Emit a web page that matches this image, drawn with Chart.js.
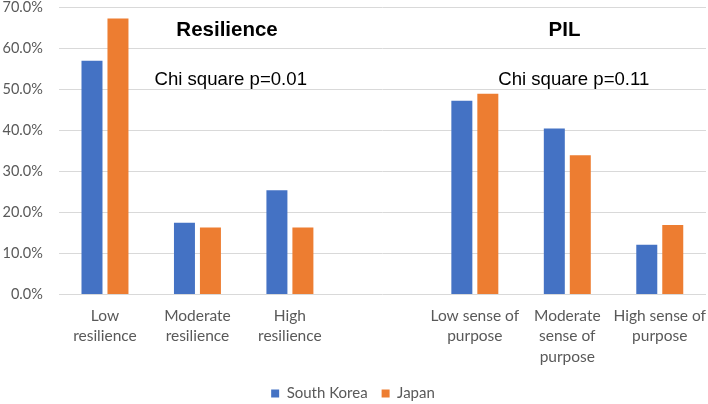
<!DOCTYPE html>
<html>
<head>
<meta charset="utf-8">
<script src="https://cdn.jsdelivr.net/npm/chart.js@4.4.1/dist/chart.umd.min.js"></script>
<style>
  html, body { margin: 0; padding: 0; background: #fff; }
  #wrap { width: 708px; height: 404px; }
</style>
</head>
<body>
<div id="wrap"><canvas id="chart"></canvas></div>
<script>
// categories (the empty one is the gap between the two groups)
const categories = [
  ['Low', 'resilience'],
  ['Moderate', 'resilience'],
  ['High', 'resilience'],
  '',
  ['Low sense of', 'purpose'],
  ['Moderate', 'sense of', 'purpose'],
  ['High sense of', 'purpose']
];
const seriesNames = ['South Korea', 'Japan'];
const southKorea = [56.9, 17.5, 25.4, null, 47.2, 40.4, 12.1];
const japan = [67.2, 16.3, 16.3, null, 48.9, 33.9, 16.9];
const yTicks = [0, 10, 20, 30, 40, 50, 60, 70];

// text placed on the plot: [text, x (category index), y (value), bold]
const notes = [
  ['Resilience', 1.32, 64.4, true],
  ['Chi square p=0.01', 1.36, 52.2, false],
  ['PIL', 4.97, 64.4, true],
  ['Chi square p=0.11', 5.07, 52.2, false]
];

const notePlugin = {
  id: 'notes',
  afterDatasetsDraw(chart) {
    const ctx = chart.ctx;
    const x = chart.scales.x, y = chart.scales.y;
    ctx.save();
    ctx.fillStyle = '#000';
    ctx.textAlign = 'center';
    ctx.textBaseline = 'middle';
    notes.forEach(n => {
      ctx.font = n[3] ? 'bold 20.5px "Liberation Sans"' : '18.6px "Liberation Sans"';
      ctx.fillText(n[0], x.getPixelForValue(n[1]), y.getPixelForValue(n[2]));
    });
    ctx.restore();
  }
};

// push the legend row down a little
const legendDown = {
  id: 'legendDown',
  afterLayout(chart) {
    chart.legend.top += 3.5;
    chart.legend.bottom += 3.5;
  }
};

new Chart(document.getElementById('chart'), {
  type: 'bar',
  data: {
    labels: categories,
    datasets: [
      { label: seriesNames[0], data: southKorea, backgroundColor: '#4472C4' },
      { label: seriesNames[1], data: japan, backgroundColor: '#ED7D31' }
    ]
  },
  options: {
    responsive: true,
    maintainAspectRatio: false,
    animation: false,
    categoryPercentage: 0.562,
    barPercentage: 0.808,
    layout: { padding: { left: 0, right: 2, top: 0, bottom: -3.5 } },
    scales: {
      x: {
        grid: { display: false, drawTicks: false },
        border: { display: false },
        ticks: {
          color: '#595959',
          font: { family: 'Lato', size: 15.5, lineHeight: 1.32 },
          maxRotation: 0,
          autoSkip: false,
          padding: 11
        },
        afterFit(axis) {
          axis.height = 74;
          axis.paddingLeft = 0;
          axis.paddingRight = 0;
        }
      },
      y: {
        min: 0,
        max: 70,
        afterBuildTicks(axis) { axis.ticks = yTicks.map(v => ({ value: v })); },
        grid: { color: '#d9d9d9', drawTicks: false },
        border: { display: false },
        ticks: {
          color: '#595959',
          font: { family: 'Lato', size: 14.5 },
          padding: 16,
          callback: v => v.toFixed(1) + '%'
        },
        afterFit(axis) {
          axis.width = 58.75;
          axis.paddingTop = 7;
          axis.paddingBottom = 0;
        }
      }
    },
    plugins: {
      tooltip: { enabled: false },
      legend: {
        position: 'bottom',
        labels: {
          color: '#595959',
          font: { family: 'Lato', size: 15 },
          boxWidth: 8,
          boxHeight: 8,
          padding: 14
        }
      }
    }
  },
  plugins: [notePlugin, legendDown]
});
</script>
</body>
</html>
